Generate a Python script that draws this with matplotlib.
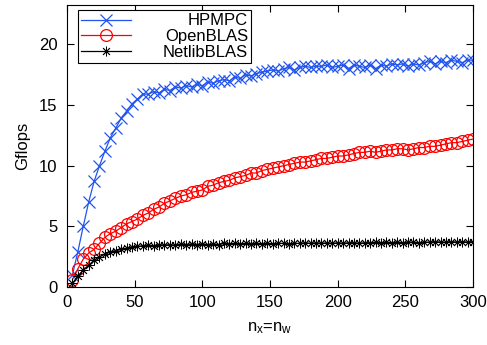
import numpy as np
import matplotlib
matplotlib.use("Agg")
import matplotlib.pyplot as plt
from matplotlib.transforms import Affine2D

plt.rcParams['font.family'] = ['Liberation Sans', 'DejaVu Sans']
plt.rcParams['mathtext.default'] = 'regular'
plt.rcParams['font.size'] = 12

# ---- data ----
n = list(range(4, 301, 4))

hpmpc = [1.0, 2.9, 5.0, 7.0, 8.7, 10.0, 11.2, 12.3, 13.1, 13.9,
         14.5, 15.1, 15.5, 15.9, 15.9, 16.1, 16.0, 16.3, 16.2, 16.5,
         16.4, 16.6, 16.5, 16.7, 16.6, 16.9, 16.8, 17.0, 17.1, 17.0,
         17.3, 17.2, 17.5, 17.4, 17.6, 17.7, 17.8, 17.9, 17.8, 18.0,
         18.1, 17.9, 18.1, 18.2, 18.1, 18.2, 18.2, 18.3, 18.1, 18.2,
         18.3, 18.0, 18.3, 18.2, 18.1, 18.3, 18.0, 18.3, 18.2, 18.4,
         18.3, 18.4, 18.2, 18.4, 18.3, 18.5, 18.6, 18.4, 18.6, 18.5,
         18.7, 18.6, 18.5, 18.7, 18.7]

openblas = [0.6, 1.5, 2.3, 2.8, 3.1, 3.6, 4.1, 4.4, 4.6, 4.9,
            5.2, 5.4, 5.6, 5.9, 6.1, 6.4, 6.6, 6.9, 7.1, 7.3,
            7.5, 7.6, 7.8, 7.9, 8.0, 8.3, 8.4, 8.6, 8.7, 8.8,
            9.0, 9.1, 9.2, 9.4, 9.4, 9.6, 9.7, 9.8, 9.9, 10.0,
            10.1, 10.2, 10.3, 10.3, 10.4, 10.5, 10.6, 10.6, 10.7, 10.8,
            10.8, 10.9, 11.0, 11.1, 11.1, 11.2, 11.1, 11.2, 11.3, 11.3,
            11.4, 11.4, 11.3, 11.4, 11.5, 11.5, 11.6, 11.6, 11.7, 11.8,
            11.9, 11.9, 12.0, 12.1, 12.2]

netlib = [0.3, 0.9, 1.4, 1.8, 2.2, 2.5, 2.7, 2.9, 3.0, 3.1,
          3.2, 3.3, 3.35, 3.4, 3.45, 3.4, 3.5, 3.45, 3.5, 3.45,
          3.55, 3.5, 3.55, 3.5, 3.55, 3.5, 3.55, 3.5, 3.6, 3.55,
          3.6, 3.55, 3.6, 3.55, 3.6, 3.55, 3.6, 3.55, 3.6, 3.6,
          3.55, 3.6, 3.6, 3.65, 3.6, 3.65, 3.6, 3.65, 3.6, 3.65,
          3.6, 3.65, 3.65, 3.6, 3.65, 3.65, 3.7, 3.65, 3.7, 3.65,
          3.7, 3.65, 3.7, 3.7, 3.65, 3.7, 3.7, 3.75, 3.7, 3.7,
          3.75, 3.7, 3.75, 3.7, 3.75]

labels = ['HPMPC', 'OpenBLAS', 'NetlibBLAS']
xticks = [0, 50, 100, 150, 200, 250, 300]
yticks = [0, 5, 10, 15, 20]

# ---- figure ----
fig = plt.figure(figsize=(4.87, 3.45), dpi=100)
ax = fig.add_axes([0.1376, 0.1681, 0.8337, 0.8174])

ax.plot(n, hpmpc, color='#2255ee', lw=0.9, marker='x', ms=8, mew=0.9,
        label=labels[0])
ax.plot(n, openblas, color='#ff0000', lw=0.9, marker='o', ms=8.5,
        mfc='none', mew=0.9, label=labels[1])
ax.plot(n, netlib, color='black', lw=0.9, marker=(8, 2, 0), ms=7,
        mew=0.6, label=labels[2])

ax.set_xlim(0, 300)
ax.set_ylim(0, 23.25)
ax.set_xticks(xticks)
ax.set_yticks(yticks)
ax.tick_params(direction='in', length=5, width=0.8, top=True, right=True,
               labelsize=12)
ax.tick_params(axis='x', pad=6)
ax.tick_params(axis='y', pad=7)
ax.set_ylabel('Gflops', fontsize=12, labelpad=6)
ax.set_xlabel(r'n$_{x}$=n$_{w}$', fontsize=12, labelpad=7)

leg = ax.legend(loc='upper left', bbox_to_anchor=(0.027, 0.982),
                borderaxespad=0, fancybox=False, framealpha=1,
                edgecolor='black', handlelength=3.0, handletextpad=1.9,
                labelspacing=0.05, borderpad=0.2, fontsize=12)
leg.get_frame().set_linewidth(0.8)

# right-align legend texts
fig.canvas.draw()
r = fig.canvas.get_renderer()
texts = leg.get_texts()
widths = [t.get_window_extent(r).width for t in texts]
wmax = max(widths)
for t, w in zip(texts, widths):
    t.set_transform(t.get_transform() + Affine2D().translate(wmax - w, 0))

fig.savefig('out.png', dpi=100)
